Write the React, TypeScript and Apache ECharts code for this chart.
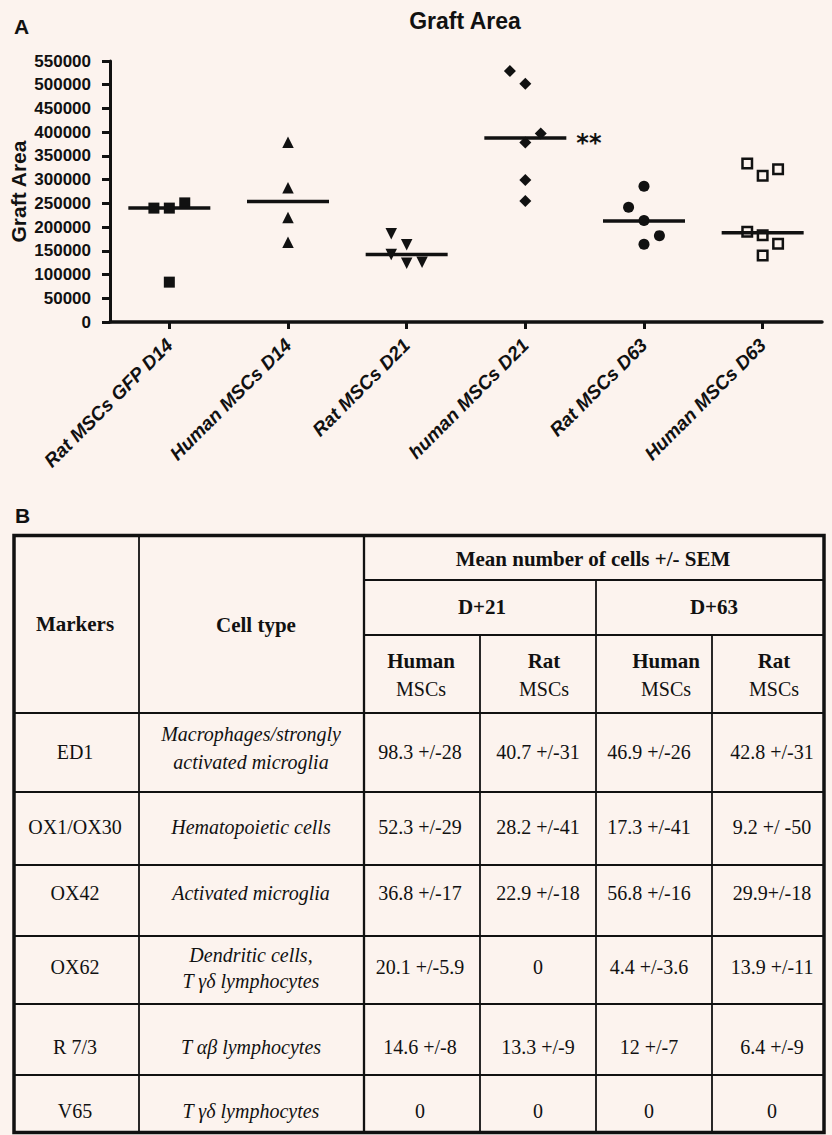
import React, { useEffect, useRef } from "react";
import * as echarts from "echarts";

// ---------- Panel A data ----------
const categories = [
  "Rat MSCs GFP D14",
  "Human MSCs D14",
  "Rat MSCs D21",
  "human MSCs D21",
  "Rat MSCs D63",
  "Human MSCs D63",
];
const ratGfpD14 = [240000, 240000, 251000, 84000];
const ratGfpD14Jitter = [-1, 0, 1, 0];
const humanD14 = [379000, 283000, 220000, 168000];
const humanD14Jitter = [0, 0, 0, 0];
const ratD21 = [186000, 163000, 142000, 124000, 126000];
const ratD21Jitter = [-1, 0, -1, 0, 1];
const humanD21 = [529000, 502000, 397000, 378000, 299000, 255000];
const humanD21Jitter = [-1, 0, 1, 0, 0, 0];
const ratD63 = [286000, 242000, 214000, 182000, 164000];
const ratD63Jitter = [0, -1, 0, 1, 0];
const humanD63 = [334000, 308000, 322000, 190000, 183000, 165000, 140000];
const humanD63Jitter = [-1, 0, 1, -1, 0, 1, 0];
const medians = [240000, 254000, 142000, 388000, 213000, 188000];
const significance = ["", "", "", "**", "", ""];
const yMax = 550000;
const yStep = 50000;

// ---------- Panel B data ----------
const markers = ["ED1", "OX1/OX30", "OX42", "OX62", "R 7/3", "V65"];
const cellTypes = [
  "Macrophages/strongly\nactivated microglia",
  "Hematopoietic cells",
  "Activated microglia",
  "Dendritic cells,\nT γδ lymphocytes",
  "T αβ lymphocytes",
  "T γδ lymphocytes",
];
const humanD21Cells = ["98.3 +/-28", "52.3 +/-29", "36.8 +/-17", "20.1 +/-5.9", "14.6 +/-8", "0"];
const ratD21Cells = ["40.7 +/-31", "28.2 +/-41", "22.9 +/-18", "0", "13.3 +/-9", "0"];
const humanD63Cells = ["46.9 +/-26", "17.3 +/-41", "56.8 +/-16", "4.4 +/-3.6", "12 +/-7", "0"];
const ratD63Cells = ["42.8 +/-31", "9.2 +/ -50", "29.9+/-18", "13.9 +/-11", "6.4 +/-9", "0"];

const BG = "#fcf3ee";
const INK = "#111111";
const SANS = '"Liberation Sans", Arial, sans-serif';
const SERIF = '"Liberation Serif", "Times New Roman", serif';
const JIT = 0.13;

function buildOption() {
  const groups = [
    { values: ratGfpD14, jitter: ratGfpD14Jitter, symbol: "rect", size: 11, rotate: 0, hollow: false },
    { values: humanD14, jitter: humanD14Jitter, symbol: "triangle", size: 11.5, rotate: 0, hollow: false },
    { values: ratD21, jitter: ratD21Jitter, symbol: "triangle", size: 11.5, rotate: 180, hollow: false },
    { values: humanD21, jitter: humanD21Jitter, symbol: "diamond", size: 12, rotate: 0, hollow: false },
    { values: ratD63, jitter: ratD63Jitter, symbol: "circle", size: 11, rotate: 0, hollow: false },
    { values: humanD63, jitter: humanD63Jitter, symbol: "rect", size: 9.5, rotate: 0, hollow: true },
  ];

  const scatterSeries: any[] = groups.map((g, i) => ({
    type: "scatter",
    xAxisIndex: 1,
    yAxisIndex: 0,
    symbol: g.symbol,
    symbolSize: g.size,
    symbolRotate: g.rotate,
    itemStyle: g.hollow
      ? { color: BG, borderColor: INK, borderWidth: 2.5, opacity: 1 }
      : { color: INK, opacity: 1 },
    data: g.values.map((v, j) => [i + g.jitter[j] * JIT, v]),
    z: 3,
  }));

  const medianSeries = {
    type: "scatter",
    xAxisIndex: 1,
    yAxisIndex: 0,
    symbol: "rect",
    symbolSize: [82, 3.5],
    itemStyle: { color: INK, opacity: 1 },
    z: 4,
    label: {
      show: true,
      position: "right",
      distance: 10,
      offset: [0, 5],
      formatter: (p: any) => significance[p.dataIndex],
      fontFamily: '"DejaVu Sans", sans-serif',
      fontWeight: "bold",
      fontSize: 24,
      color: INK,
    },
    data: medians.map((m, i) => [i, m]),
  };

  // ---------- Table layout ----------
  const colX = [14, 139, 364, 480, 596, 712, 824];
  const rowY = [713, 792, 865, 936, 1004, 1075, 1132];
  const top = 535.5;
  const bottom = 1132.5;
  const lineStyle = { stroke: INK, lineWidth: 1.8 };
  const graphics: any[] = [];
  const hline = (y: number, x1: number, x2: number, w = 1.8) =>
    graphics.push({ type: "line", shape: { x1, y1: y, x2, y2: y }, style: { ...lineStyle, lineWidth: w }, silent: true });
  const vline = (x: number, y1: number, y2: number, w = 1.8) =>
    graphics.push({ type: "line", shape: { x1: x, y1, x2: x, y2 }, style: { ...lineStyle, lineWidth: w }, silent: true });
  const text = (t: string, x: number, y: number, font: string, lh = 26, align = "center") =>
    graphics.push({
      type: "text",
      x,
      y,
      silent: true,
      style: { text: t, font, fill: INK, align, verticalAlign: "middle", lineHeight: lh },
    });

  hline(580, colX[2], colX[6]);
  hline(635, colX[2], colX[6]);
  rowY.slice(0, 6).forEach((y, k) => hline(y, colX[0], colX[6], k === 0 ? 2.2 : 1.8));
  vline(colX[1], top, bottom);
  vline(colX[2], top, bottom, 2.3);
  vline(colX[3], 635, bottom);
  vline(colX[4], 580, bottom);
  vline(colX[5], 635, bottom);
  graphics.push({
    type: "rect",
    shape: { x: colX[0], y: top, width: colX[6] - colX[0], height: bottom - top },
    style: { fill: null, stroke: INK, lineWidth: 3.5 },
    silent: true,
  });

  const bold = `bold 21px ${SERIF}`;
  const reg = `20px ${SERIF}`;
  const ital = `italic 20px ${SERIF}`;
  text("Markers", 75, 624, bold);
  text("Cell type", 256, 625, bold);
  text("Mean number of cells +/- SEM", 593, 559, bold);
  text("D+21", 482, 607, bold);
  text("D+63", 714, 607, bold);
  const headX = [421, 544, 666, 774];
  ["Human", "Rat", "Human", "Rat"].forEach((h, k) => {
    text(h, headX[k], 661, bold);
    text("MSCs", headX[k], 689, reg);
  });

  const rowTextY = [752, 827, 893, 967, 1047, 1111];
  const cellTypeY = [748, 827, 893, 968, 1047, 1111];
  const dataX = [420, 538, 649, 772];
  const cols = [humanD21Cells, ratD21Cells, humanD63Cells, ratD63Cells];
  markers.forEach((m, r) => {
    text(m, 75, rowTextY[r], reg);
    text(cellTypes[r], 251, cellTypeY[r], ital, r === 0 ? 28 : 26);
    cols.forEach((c, k) => text(c[r], dataX[k], rowTextY[r], reg));
  });

  // Panel labels and title
  text("A", 14, 26, `bold 21px ${SANS}`, 24, "left");
  text("B", 15, 515, `bold 21px ${SANS}`, 24, "left");
  text("Graft Area", 465, 21, `bold 23px ${SANS}`, 26, "center");

  return {
    animation: false,
    backgroundColor: BG,
    grid: {
      left: 110,
      right: 10,
      top: 61,
      bottom: 813,
      containLabel: false,
      outerBoundsMode: "none",
    },
    xAxis: [
      {
        type: "category",
        data: categories,
        boundaryGap: true,
        axisLine: { show: true, onZero: false, lineStyle: { color: INK, width: 3.5 } },
        axisTick: { show: true, alignWithLabel: true, length: 7, lineStyle: { color: INK, width: 3 } },
        axisLabel: {
          interval: 0,
          rotate: 45,
          margin: 20,
          color: INK,
          fontFamily: SANS,
          fontWeight: "bold",
          fontStyle: "italic",
          fontSize: 19,
        },
        splitLine: { show: false },
      },
      {
        type: "value",
        show: false,
        min: -0.5,
        max: categories.length - 0.5,
      },
    ],
    yAxis: [
      {
        type: "value",
        min: 0,
        max: yMax,
        interval: yStep,
        name: "Graft Area",
        nameLocation: "middle",
        nameGap: 81,
        nameMoveOverlap: false,
        nameTextStyle: { color: INK, fontFamily: SANS, fontWeight: "bold", fontSize: 21 },
        axisLine: { show: true, onZero: false, lineStyle: { color: INK, width: 3 } },
        axisTick: { show: true, length: 8, lineStyle: { color: INK, width: 3 } },
        axisLabel: {
          margin: 19,
          color: INK,
          fontFamily: SANS,
          fontWeight: "bold",
          fontSize: 17,
          formatter: (v: number) => String(v),
        },
        splitLine: { show: false },
      },
    ],
    series: [...scatterSeries, medianSeries],
    graphic: { elements: graphics },
  };
}

export default function App() {
  const ref = useRef<HTMLDivElement>(null);
  useEffect(() => {
    if (!ref.current) return;
    const chart = echarts.init(ref.current, null, { renderer: "svg" });
    chart.setOption(buildOption() as any);
    return () => chart.dispose();
  }, []);
  return (
    <div
      ref={ref}
      style={{ position: "absolute", left: 0, top: 0, width: 832, height: 1135 }}
    />
  );
}
